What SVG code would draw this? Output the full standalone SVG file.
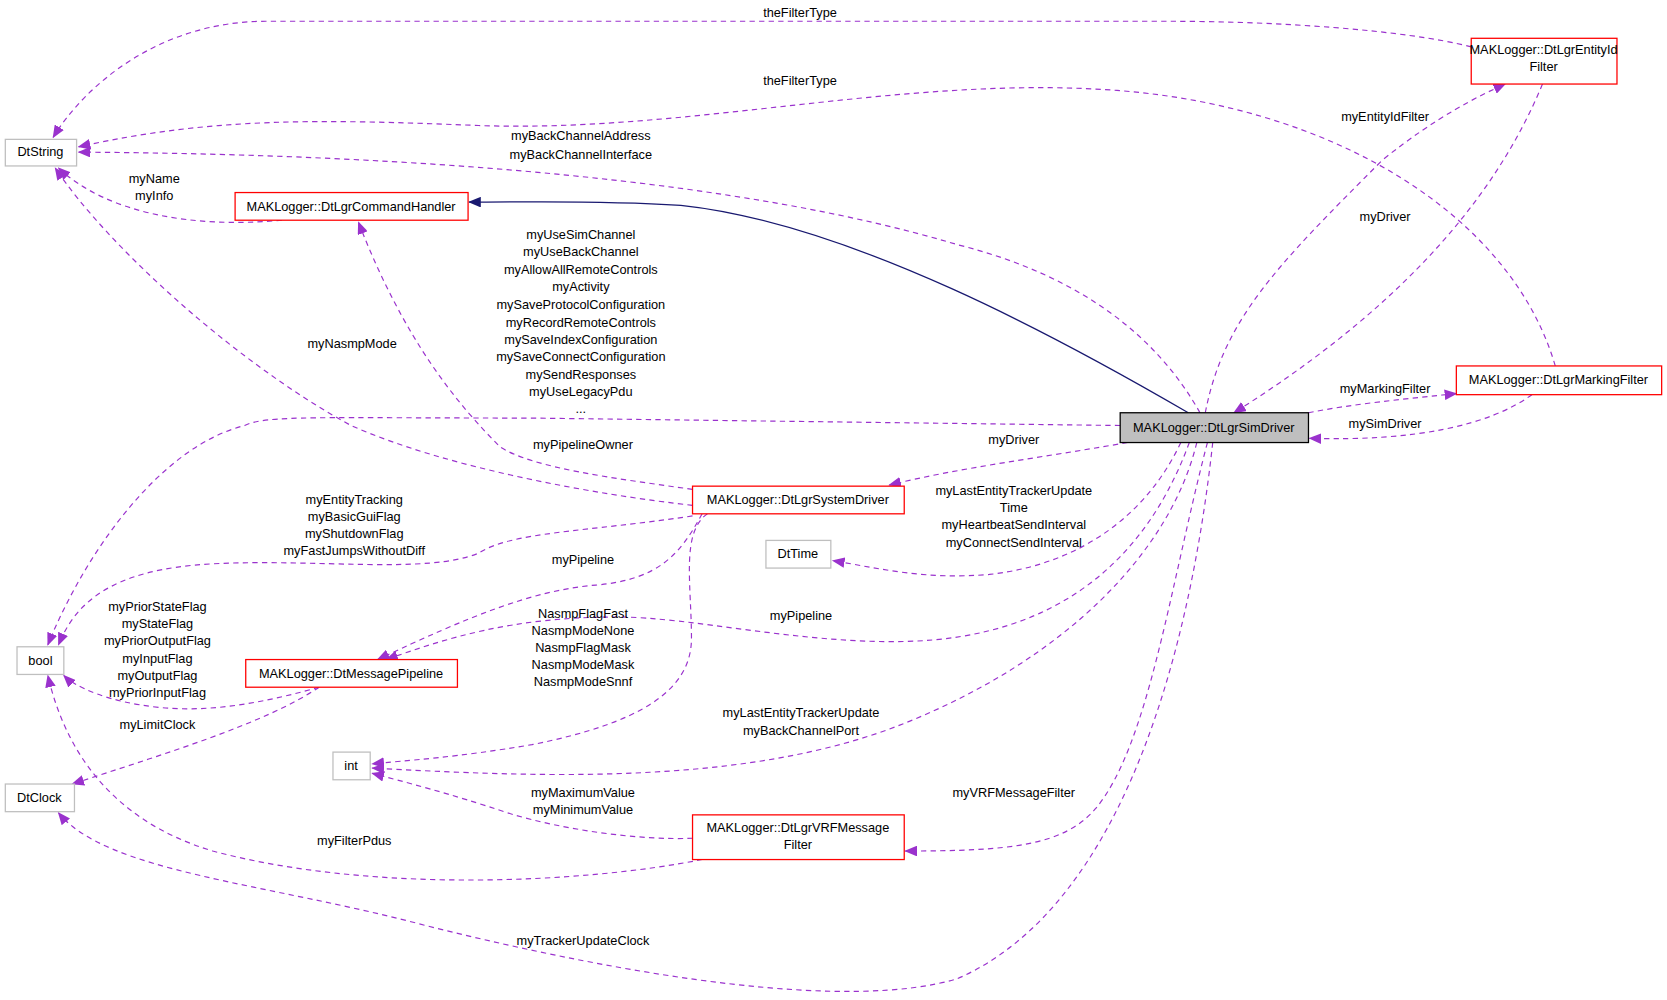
<svg xmlns="http://www.w3.org/2000/svg" width="1667" height="1000" viewBox="0 0 1667 1000">
<style>
text{font-family:"Liberation Sans",Arial,sans-serif;font-size:12px;fill:#000;text-anchor:middle}
.n{fill:#fff;stroke:#ff0000;stroke-width:1.2}
.g{fill:#fff;stroke:#bfbfbf;stroke-width:1.2}
.e{fill:none;stroke:#9a32cd;stroke-width:1.1;stroke-dasharray:5,4}
.i{fill:none;stroke:#191970;stroke-width:1.2}
</style>
<defs>
<marker id="a" markerWidth="12" markerHeight="10" refX="11" refY="5" orient="auto" markerUnits="userSpaceOnUse"><path d="M0,0 L12,5 L0,10z" fill="#9a32cd"/></marker>
<marker id="b" markerWidth="12" markerHeight="10" refX="11" refY="5" orient="auto" markerUnits="userSpaceOnUse"><path d="M0,0 L12,5 L0,10z" fill="#191970"/></marker>
</defs>
<rect width="1667" height="1000" fill="#fff"/>
<g transform="scale(1.0638)">
<g id="connectors">
<path class="e" marker-end="url(#a)" d="M1383,44 C1320,28 1200,20 1100,20 L250,20 C150,20 80,80 50,129"/>
<path class="e" marker-end="url(#a)" d="M1462,344 C1420,200 1250,100 1050,85 C850,70 650,125 450,118 C300,112 200,110 74,138"/>
<path class="e" marker-end="url(#a)" d="M1128,388 C1090,320 1020,260 900,230 C700,170 400,145 74,143"/>
<path class="e" marker-end="url(#a)" d="M265,207 C180,215 100,200 55,158"/>
<path class="i" marker-end="url(#b)" d="M1117,388 C1000,320 800,210 640,193 C560,188 500,190 441,190"/>
<path class="e" marker-end="url(#a)" d="M1053,400 L500,393 C300,393 250,390 230,400 C150,420 80,520 45,606"/>
<path class="e" marker-end="url(#a)" d="M651,475 C560,465 420,440 330,400 C220,340 100,230 52,158"/>
<path class="e" marker-end="url(#a)" d="M651,460 C580,450 500,440 470,420 C430,380 380,320 337,209"/>
<path class="e" marker-end="url(#a)" d="M1060,416 C980,430 900,440 836,456"/>
<path class="e" marker-end="url(#a)" d="M651,485 C550,500 480,500 450,520 C400,540 300,525 200,530 C100,535 70,570 55,606"/>
<path class="e" marker-end="url(#a)" d="M660,483 C640,520 620,545 560,550 C500,555 440,580 355,620"/>
<path class="e" marker-end="url(#a)" d="M665,483 C640,500 650,550 650,600 C650,650 600,680 500,700 C430,712 380,715 350,718"/>
<path class="e" marker-end="url(#a)" d="M1110,416 C1080,480 1020,530 930,540 C870,545 830,535 783,527"/>
<path class="e" marker-end="url(#a)" d="M1118,416 C1080,520 1000,600 850,603 C750,605 650,580 580,580 C480,580 420,600 363,620"/>
<path class="e" marker-end="url(#a)" d="M300,646 C250,660 200,670 150,665 C100,660 70,645 60,635"/>
<path class="e" marker-end="url(#a)" d="M300,646 C250,680 150,710 68,737"/>
<path class="e" marker-end="url(#a)" d="M1125,416 C1100,520 1000,620 850,680 C700,740 500,730 350,722"/>
<path class="e" marker-end="url(#a)" d="M651,788 C600,790 530,780 480,765 C420,745 380,735 350,727"/>
<path class="e" marker-end="url(#a)" d="M660,808 C550,830 350,840 200,800 C100,770 60,700 45,635"/>
<path class="e" marker-end="url(#a)" d="M1135,416 C1100,550 1080,700 1030,760 C1000,795 950,800 851,800"/>
<path class="e" marker-end="url(#a)" d="M1140,416 C1120,600 1060,850 900,920 C800,950 600,920 400,870 C250,830 100,820 55,764"/>
<path class="e" marker-end="url(#a)" d="M1133,388 C1150,300 1200,250 1300,150 C1350,110 1390,90 1415,79"/>
<path class="e" marker-end="url(#a)" d="M1450,79 C1400,200 1300,300 1160,388"/>
<path class="e" marker-end="url(#a)" d="M1230,388 C1270,380 1320,375 1369,370"/>
<path class="e" marker-end="url(#a)" d="M1440,371 C1400,400 1330,415 1231,412"/>
<text x="752" y="16">theFilterType</text>
<text x="752" y="80">theFilterType</text>
<text x="546" y="132">myBackChannelAddress</text>
<text x="546" y="149">myBackChannelInterface</text>
<text x="145" y="172">myName</text>
<text x="145" y="188">myInfo</text>
<text x="546" y="225">myUseSimChannel</text>
<text x="546" y="241">myUseBackChannel</text>
<text x="546" y="258">myAllowAllRemoteControls</text>
<text x="546" y="274">myActivity</text>
<text x="546" y="290">mySaveProtocolConfiguration</text>
<text x="546" y="307">myRecordRemoteControls</text>
<text x="546" y="323">mySaveIndexConfiguration</text>
<text x="546" y="339">mySaveConnectConfiguration</text>
<text x="546" y="356">mySendResponses</text>
<text x="546" y="372">myUseLegacyPdu</text>
<text x="546" y="388">...</text>
<text x="331" y="327">myNasmpMode</text>
<text x="548" y="422">myPipelineOwner</text>
<text x="953" y="417">myDriver</text>
<text x="333" y="474">myEntityTracking</text>
<text x="333" y="490">myBasicGuiFlag</text>
<text x="333" y="506">myShutdownFlag</text>
<text x="333" y="522">myFastJumpsWithoutDiff</text>
<text x="548" y="530">myPipeline</text>
<text x="953" y="465">myLastEntityTrackerUpdate</text>
<text x="953" y="481">Time</text>
<text x="953" y="497">myHeartbeatSendInterval</text>
<text x="953" y="514">myConnectSendInterval</text>
<text x="548" y="581">NasmpFlagFast</text>
<text x="548" y="597">NasmpModeNone</text>
<text x="548" y="613">NasmpFlagMask</text>
<text x="548" y="629">NasmpModeMask</text>
<text x="548" y="645">NasmpModeSnnf</text>
<text x="753" y="583">myPipeline</text>
<text x="148" y="574">myPriorStateFlag</text>
<text x="148" y="590">myStateFlag</text>
<text x="148" y="606">myPriorOutputFlag</text>
<text x="148" y="623">myInputFlag</text>
<text x="148" y="639">myOutputFlag</text>
<text x="148" y="655">myPriorInputFlag</text>
<text x="148" y="685">myLimitClock</text>
<text x="753" y="674">myLastEntityTrackerUpdate</text>
<text x="753" y="691">myBackChannelPort</text>
<text x="548" y="749">myMaximumValue</text>
<text x="548" y="765">myMinimumValue</text>
<text x="333" y="794">myFilterPdus</text>
<text x="953" y="749">myVRFMessageFilter</text>
<text x="548" y="888">myTrackerUpdateClock</text>
<text x="1302" y="114">myEntityIdFilter</text>
<text x="1302" y="208">myDriver</text>
<text x="1302" y="369">myMarkingFilter</text>
<text x="1302" y="402">mySimDriver</text>
</g>
<g id="DtString"><rect class="g" x="5" y="131" width="67" height="25"/><text x="38" y="147">DtString</text></g>
<g id="EntityIdFilter"><rect class="n" x="1383" y="36" width="137" height="43"/><text x="1451" y="51">MAKLogger::DtLgrEntityId</text><text x="1451" y="67">Filter</text></g>
<g id="CommandHandler"><rect class="n" x="221" y="181" width="219" height="26"/><text x="330" y="198">MAKLogger::DtLgrCommandHandler</text></g>
<g id="SimDriver"><rect x="1053" y="388" width="177" height="28" fill="#bfbfbf" stroke="#000" stroke-width="1.2"/><text x="1141" y="406">MAKLogger::DtLgrSimDriver</text></g>
<g id="MarkingFilter"><rect class="n" x="1369" y="344" width="193" height="27"/><text x="1465" y="361">MAKLogger::DtLgrMarkingFilter</text></g>
<g id="SystemDriver"><rect class="n" x="651" y="457" width="199" height="26"/><text x="750" y="474">MAKLogger::DtLgrSystemDriver</text></g>
<g id="DtTime"><rect class="g" x="720" y="508" width="61" height="26"/><text x="750" y="525">DtTime</text></g>
<g id="bool"><rect class="g" x="16" y="608" width="44" height="26"/><text x="38" y="625">bool</text></g>
<g id="DtMessagePipeline"><rect class="n" x="231" y="620" width="199" height="26"/><text x="330" y="637">MAKLogger::DtMessagePipeline</text></g>
<g id="int"><rect class="g" x="313" y="707" width="35" height="26"/><text x="330" y="724">int</text></g>
<g id="DtClock"><rect class="g" x="5" y="737" width="65" height="26"/><text x="37" y="754">DtClock</text></g>
<g id="VRFMessageFilter"><rect class="n" x="651" y="766" width="199" height="42"/><text x="750" y="782">MAKLogger::DtLgrVRFMessage</text><text x="750" y="798">Filter</text></g>
</g>
</svg>
